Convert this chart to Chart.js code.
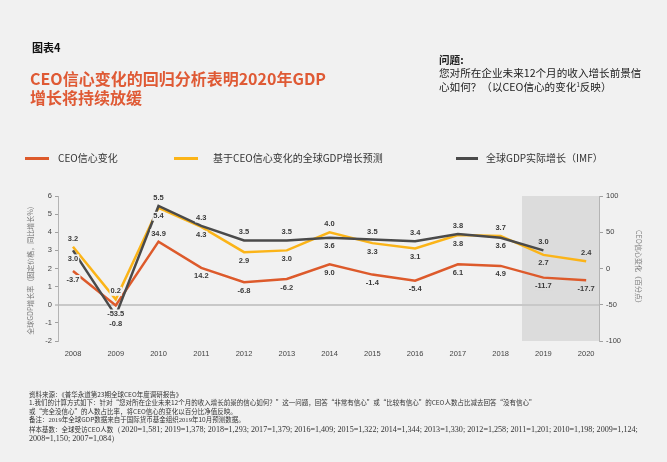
<!DOCTYPE html>
<html><head><meta charset="utf-8">
<script src="https://cdn.jsdelivr.net/npm/chart.js@4/dist/chart.umd.min.js"></script>
<style>
html,body{margin:0;padding:0;background:#ffffff;}
#page{position:relative;width:667px;height:462px;background:#f1f1f1;overflow:hidden;font-family:"Noto Sans CJK SC","Noto Sans",sans-serif;}
#c{position:absolute;left:0;top:0;}
.t{position:absolute;white-space:nowrap;}
.lg{position:absolute;top:151px;height:14px;font-size:10px;line-height:14px;color:#333;white-space:nowrap;}
.sw{position:absolute;height:3px;top:6px;}
#foot{left:29px;top:389.5px;font-size:6.5px;line-height:8.5px;color:#333;}
.ser{font-family:"Liberation Serif",serif;font-size:6.6px;}
.ser2{font-family:"Liberation Serif",serif;font-size:8.1px;}
</style></head><body>
<div id="page">
<canvas id="c" width="667" height="462"></canvas>
<div class="t" style="left:32px;top:40px;font-size:11px;line-height:14px;font-weight:bold;color:#111;">图表4</div>
<div class="t" style="left:30px;top:68.5px;font-size:16px;line-height:19px;font-weight:bold;color:#df5a35;">CEO信心变化的回归分析表明2020年GDP<br>增长将持续放缓</div>
<div class="t" style="left:439px;top:54px;font-size:10.6px;line-height:12.7px;color:#222;"><b>问题:</b><br>您对所在企业未来12个月的收入增长前景信<br>心如何？（以CEO信心的变化<span style="font-size:6px;vertical-align:4px;">1</span>反映）</div>
<div id="legend"></div>
<div class="t" id="foot">资料来源：《普华永道第23期全球CEO年度调研报告》<br>1.我们的计算方式如下：针对“您对所在企业未来12个月的收入增长前景的信心如何？”这一问题，回答“非常有信心”或“比较有信心”的CEO人数占比减去回答“没有信心”<br>或“完全没信心”的人数占比率，将CEO信心的变化以百分比净值反映。<br>备注：<span class="ser">2019</span>年全球GDP数据来自于国际货币基金组织<span class="ser">2019</span>年10月预测数据。<br>样本基数：全球受访CEO人数<span class="ser2">（2020=1,581; 2019=1,378; 2018=1,293; 2017=1,379; 2016=1,409; 2015=1,322; 2014=1,344; 2013=1,330; 2012=1,258; 2011=1,201; 2010=1,198; 2009=1,124;</span><br><span class="ser2">2008=1,150; 2007=1,084）</span></div>
</div>
<script>
// ---- data ----
const years = [2008, 2009, 2010, 2011, 2012, 2013, 2014, 2015, 2016, 2017, 2018, 2019, 2020];
const ceoChange = [-3.5, -51, 37, 0.8, -19, -14.4, 5.9, -8.4, -16.8, 5.9, 3.6, -12.6, -16.3];
const ceoLabels = ["-3.7", "-53.5", "34.9", "14.2", "-6.8", "-6.2", "9.0", "-1.4", "-5.4", "6.1", "4.9", "-11.7", "-17.7"];
const gdpForecast = [3.2, 0.3, 5.35, 4.3, 2.9, 3.0, 4.0, 3.4, 3.1, 3.85, 3.8, 2.75, 2.4];
const gdpForecastLabels = ["3.2", "0.2", "5.4", "4.3", "2.9", "3.0", "4.0", "3.3", "3.1", "3.8", "3.7", "2.7", "2.4"];
const gdpActual = [3.0, -0.6, 5.45, 4.35, 3.55, 3.55, 3.7, 3.6, 3.5, 3.9, 3.7, 3.0, null];
const gdpActualLabels = ["3.0", "-0.8", "5.5", "4.3", "3.5", "3.5", "3.6", "3.5", "3.4", "3.8", "3.6", "3.0", ""];
const leftTicks = [-2, -1, 0, 1, 2, 3, 4, 5, 6];
const rightTicks = [-100, -50, 0, 50, 100];
const forecastFrom = 2018.5;
const seriesNames = ["CEO信心变化", "基于CEO信心变化的全球GDP增长预测", "全球GDP实际增长（IMF）"];
const leftTitle = "全球GDP增长率（固定价格，同比增长%）";
const rightTitle = "CEO信心变化（百分点）";

const BG = '#f1f1f1', SHADE = '#dcdcdc';
const COLORS = ['#dd5a2b', '#fbb418', '#4a4a4a'];

const pts = arr => years.map((y, i) => ({x: y, y: arr[i]}));

const shadePlugin = {
  id: 'shade',
  beforeDraw(chart) {
    const {ctx, chartArea: a, scales} = chart;
    const x0 = scales.x.getPixelForValue(forecastFrom);
    ctx.save();
    ctx.fillStyle = SHADE;
    ctx.fillRect(x0, a.top, a.right - x0, a.bottom - a.top);
    ctx.restore();
  }
};

const labelPlugin = {
  id: 'pointLabels',
  afterDatasetsDraw(chart) {
    const {ctx, scales} = chart;
    const x0 = scales.x.getPixelForValue(forecastFrom);
    ctx.save();
    ctx.font = 'bold 7.5px "Liberation Sans", Arial, sans-serif';
    ctx.textAlign = 'center';
    ctx.textBaseline = 'middle';
    chart.data.datasets.forEach((ds, di) => {
      const meta = chart.getDatasetMeta(di);
      meta.data.forEach((p, i) => {
        const txt = ds.pointLabels[i];
        if (!txt || ds.data[i].y === null) return;
        const dy = ds.labelPos[i] === 'a' ? -8 : 8.5;
        const y = p.y + dy;
        const w = ctx.measureText(txt).width + 2;
        ctx.fillStyle = p.x >= x0 ? SHADE : BG;
        ctx.fillRect(p.x - w / 2, y - 4.5, w, 9);
        ctx.fillStyle = '#3a3a3a';
        ctx.fillText(txt, p.x, y);
      });
    });
    ctx.restore();
  }
};

const tickFont = {family: '"Liberation Sans", Arial, sans-serif', size: 7.5};
const titleFont = {family: '"Noto Sans CJK SC", sans-serif', size: 7};

const chart = new Chart(document.getElementById('c'), {
  type: 'line',
  data: {
    datasets: [
      {label: seriesNames[2], data: pts(gdpActual), yAxisID: 'yL', borderColor: COLORS[2], order: 0,
       pointLabels: gdpActualLabels, labelPos: ['b','b','a','a','a','a','b','a','a','a','b','a','a']},
      {label: seriesNames[0], data: pts(ceoChange), yAxisID: 'yR', borderColor: COLORS[0], order: 1,
       pointLabels: ceoLabels, labelPos: ['b','b','a','b','b','b','b','b','b','b','b','b','b']},
      {label: seriesNames[1], data: pts(gdpForecast), yAxisID: 'yL', borderColor: COLORS[1], order: 2,
       pointLabels: gdpForecastLabels, labelPos: ['a','a','b','b','b','b','a','b','b','b','a','b','a']}
    ]
  },
  options: {
    responsive: false,
    animation: false,
    devicePixelRatio: 1,
    layout: {padding: {left: 0, right: 0, top: 196, bottom: 0}},
    elements: {
      line: {borderWidth: 2.5, tension: 0, borderJoinStyle: 'miter', fill: false},
      point: {radius: 0, hoverRadius: 0}
    },
    plugins: {legend: {display: false}, tooltip: {enabled: false}, title: {display: false}},
    scales: {
      x: {
        type: 'linear', min: 2007.65, max: 2020.3,
        afterBuildTicks: s => { s.ticks = years.map(v => ({value: v})); },
        afterFit: s => { s.height = 121; },
        grid: {display: false, drawTicks: false},
        border: {display: false},
        ticks: {autoSkip: false, maxRotation: 0, padding: 8.5, color: '#444', font: tickFont, callback: v => String(v)}
      },
      yL: {
        type: 'linear', position: 'left', min: -2, max: 6,
        afterBuildTicks: s => { s.ticks = leftTicks.map(v => ({value: v})); },
        afterFit: s => { s.width = 58; },
        grid: {
          drawOnChartArea: true,
          color: c => (c.tick && c.tick.value === 0) ? '#c8c8c8' : 'rgba(0,0,0,0)',
          lineWidth: c => (c.tick && c.tick.value === 0) ? 2 : 1,
          tickColor: '#a0a0a0', tickWidth: 1, tickLength: 3
        },
        border: {display: true, color: '#b4b4b4', width: 1},
        ticks: {padding: 3, color: '#444', font: tickFont},
        title: {display: true, text: leftTitle, color: '#7a7a7a', font: titleFont, padding: {top: 25.8, bottom: 0}}
      },
      yR: {
        type: 'linear', position: 'right', min: -100, max: 100,
        afterBuildTicks: s => { s.ticks = rightTicks.map(v => ({value: v})); },
        afterFit: s => { s.width = 68; },
        grid: {drawOnChartArea: false, tickColor: '#a0a0a0', tickWidth: 1, tickLength: 4},
        border: {display: true, color: '#b4b4b4', width: 1},
        ticks: {padding: 3, color: '#444', font: tickFont},
        title: {display: true, text: rightTitle, color: '#7a7a7a', font: titleFont, padding: {top: 23.8, bottom: 0}}
      }
    }
  },
  plugins: [shadePlugin, labelPlugin]
});

// HTML legend built from the chart datasets (order: CEO, forecast, actual)
const legendPos = [{sw: 25, sww: 24, tx: 58}, {sw: 174, sww: 24, tx: 213}, {sw: 456, sww: 22, tx: 486}];
const legendOrder = [1, 2, 0];
const lg = document.getElementById('legend');
legendOrder.forEach((di, k) => {
  const ds = chart.data.datasets[di];
  const p = legendPos[k];
  const sw = document.createElement('div');
  sw.className = 'sw'; sw.style.left = p.sw + 'px'; sw.style.width = p.sww + 'px';
  sw.style.top = '157px'; sw.style.position = 'absolute'; sw.style.background = ds.borderColor;
  lg.appendChild(sw);
  const tx = document.createElement('div');
  tx.className = 'lg'; tx.style.left = p.tx + 'px'; tx.textContent = ds.label;
  lg.appendChild(tx);
});
</script>
</body></html>
